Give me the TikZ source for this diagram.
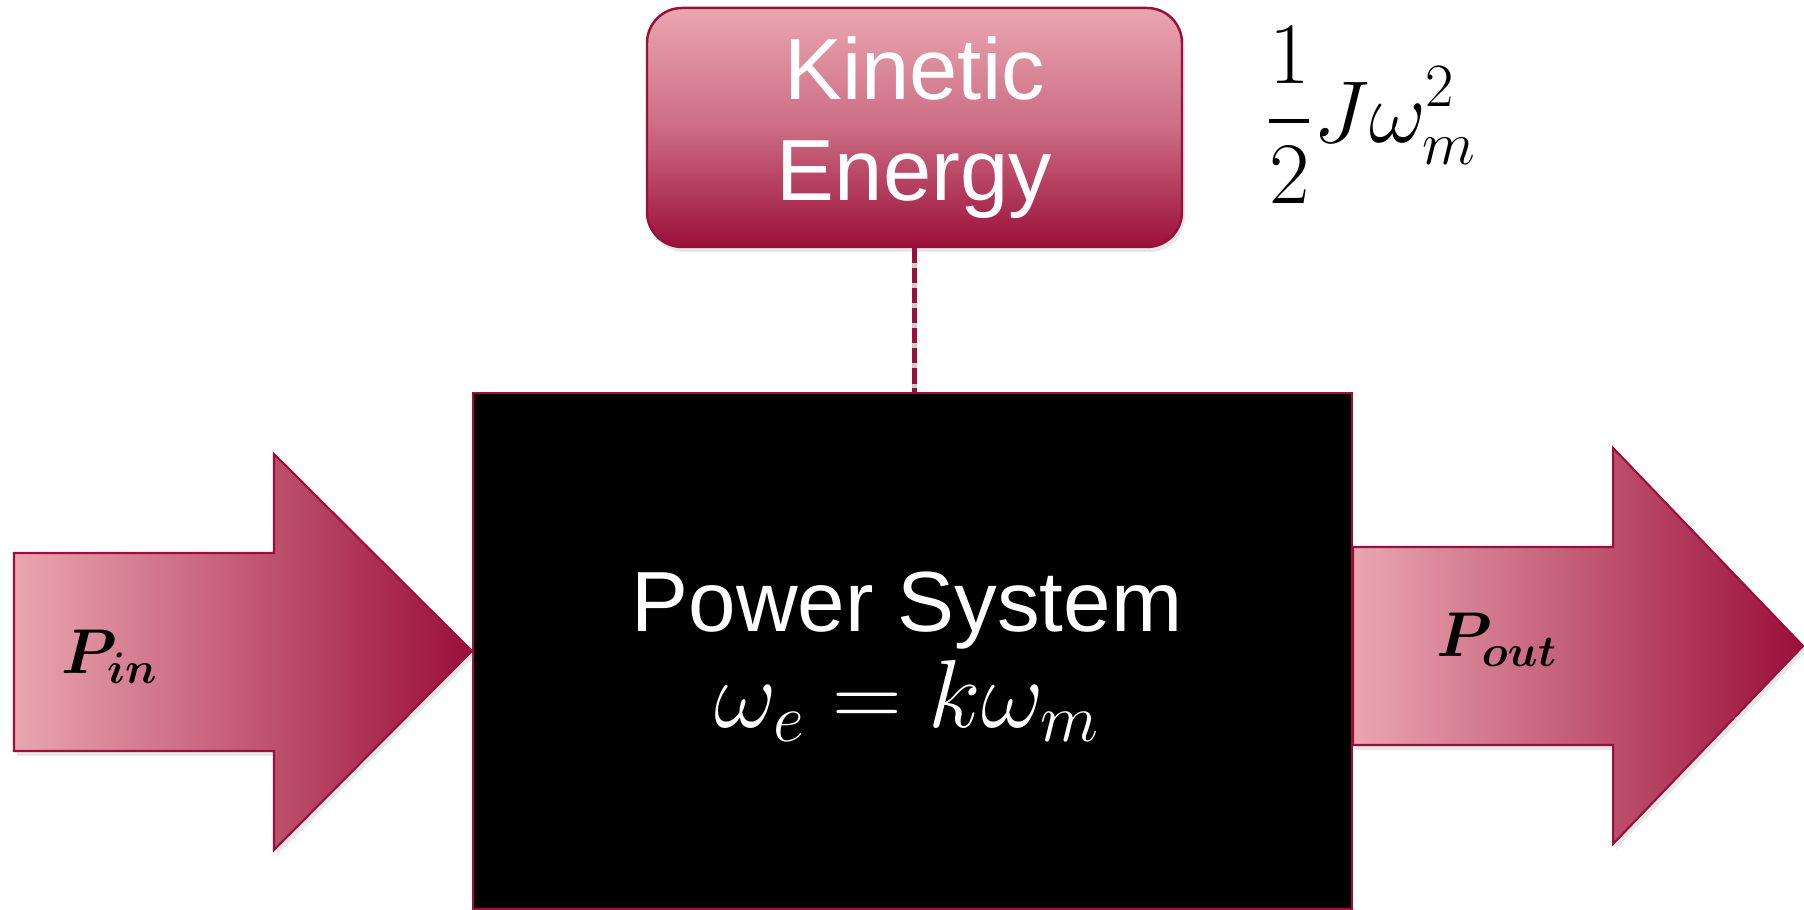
\documentclass[tikz,border=0pt]{standalone}
\usepackage{fix-cm}
\usepackage{amsmath,bm}
\usepackage{fontspec}
\setmainfont{Liberation Sans}
\usetikzlibrary{positioning,shadows,calc}

\definecolor{rosepale}{RGB}{234,166,176}
\definecolor{crimson}{RGB}{155,15,58}
\definecolor{gapgray}{RGB}{205,205,205}

\tikzset{
  softshadow/.style={drop shadow={opacity=0.18, shadow xshift=0.03cm, shadow yshift=-0.05cm}},
  energybox/.style={rounded corners=0.35cm, draw=crimson, line width=0.7pt,
    top color=rosepale, bottom color=crimson, middle color=rosepale!62!crimson,
    minimum width=5.35cm, minimum height=2.39cm,
    text=white, align=center, font=\fontsize{24.7}{28.5}\selectfont, softshadow},
  sysbox/.style={fill=black, draw=crimson, line width=0.6pt, inner sep=0pt,
    minimum width=8.79cm, minimum height=5.16cm},
  systext/.style={text=white, align=center, font=\fontsize{24.3}{28.7}\selectfont},
  flowarrow/.style={draw=crimson, line width=0.6pt, left color=rosepale, right color=crimson, softshadow},
  flowlabel/.style={font=\fontsize{18}{20}\selectfont},
  linkgap/.style={draw=gapgray, line width=1.2pt},
  linkdash/.style={draw=crimson, line width=1.2pt, dash pattern=on 4.3pt off 1.4pt},
}

\begin{document}
\begin{tikzpicture}
  \useasboundingbox (0,0) rectangle (18.04,9.10);

  % the system block
  \node[sysbox] (sys) at (9.125,2.59) {};
  \node[systext] (systxt) at (9.07,2.53) {Power System\\[-0.05cm]{\fontsize{27.5}{30}\selectfont$\omega_e = k\omega_m$}};

  % kinetic energy store
  \node[energybox] (ke) at (9.145,7.825) {Kinetic\\Energy};
  \node[font=\fontsize{25}{30}\selectfont] (keq) at (13.71,7.95) {$\displaystyle\frac{1}{2}J\omega_m^2$};

  % link between store and system
  \draw[linkgap] (ke.south) -- (ke.south |- sys.north);
  \draw[linkdash] (ke.south) -- (ke.south |- sys.north);

  % power in
  \draw[flowarrow] (sys.west) -- ++(-1.98,1.97) -- ++(0,-0.99) -- ++(-2.6,0)
    -- ++(0,-1.98) -- ++(2.6,0) -- ++(0,-0.99) -- cycle;
  \node[flowlabel] (pin) at (1.10,2.53) {$\bm{P_{in}}$};

  % power out
  \draw[flowarrow] ($(sys.east)+(0,1.04)$) -- ++(2.6,0) -- ++(0,0.99) -- ++(1.90,-1.98)
    -- ++(-1.90,-1.98) -- ++(0,0.99) -- ++(-2.6,0) -- cycle;
  \node[flowlabel] (pout) at (14.97,2.70) {$\bm{P_{out}}$};
\end{tikzpicture}
\end{document}
